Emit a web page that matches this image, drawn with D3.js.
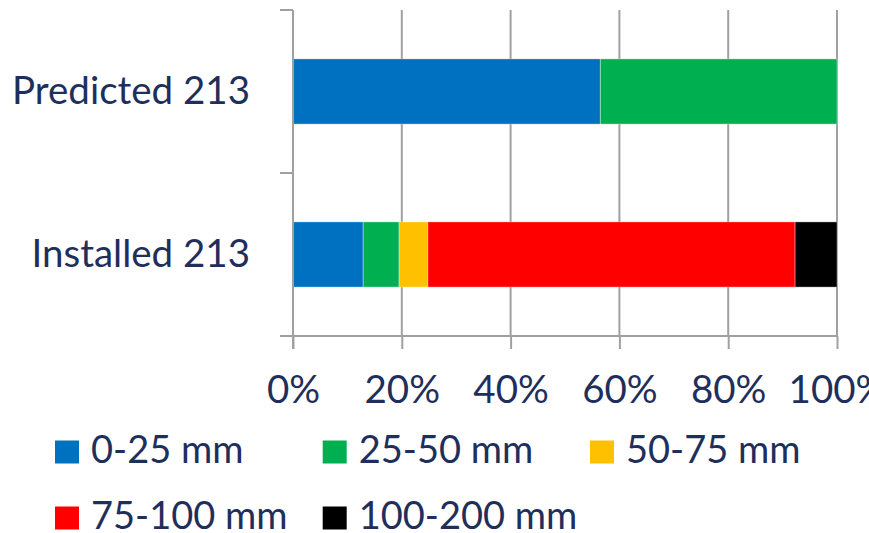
<!DOCTYPE html>
<html><head><meta charset="utf-8">
<script src="https://cdn.jsdelivr.net/npm/d3@7"></script>
<style>
html,body{margin:0;padding:0;background:#fff;}
text{font-family:"Lato","Open Sans",sans-serif;fill:#1f2f5c;}
</style></head>
<body><svg id="c" width="869" height="533"></svg>
<script>
const categories = ["Predicted 213", "Installed 213"];
const seriesNames = ["0-25 mm", "25-50 mm", "50-75 mm", "75-100 mm", "100-200 mm"];
const seriesColors = ["#0070C0", "#00B050", "#FFC000", "#FF0000", "#000000"];
const predictedValues = [56.5, 43.5, 0, 0, 0];
const installedValues = [12.9, 6.6, 5.3, 67.5, 7.7];
const tickValues = [0, 20, 40, 60, 80, 100];
const tickLabels = ["0%", "20%", "40%", "60%", "80%", "100%"];

const rows = [predictedValues, installedValues];
const table = categories.map((c, i) => {
  const o = {cat: c};
  seriesNames.forEach((s, j) => o[s] = rows[i][j]);
  return o;
});
const stack = d3.stack().keys(seriesNames).offset(d3.stackOffsetExpand)(table);

const svg = d3.select("#c");
const pLeft = 293, pRight = 837, pTop = 10, pBottom = 336;
const x = d3.scaleLinear().domain([0, 1]).range([pLeft, pRight]);
const y = d3.scaleBand().domain(categories).range([pTop, pBottom]).paddingInner(0.6).paddingOuter(0.3);
const gridColor = "#a0a0a0";

// gridlines
svg.append("g").selectAll("line").data(tickValues.filter(t => t > 0)).join("line")
  .attr("x1", d => x(d / 100)).attr("x2", d => x(d / 100))
  .attr("y1", pTop).attr("y2", pBottom)
  .attr("stroke", gridColor).attr("stroke-width", 2);

// bars
svg.append("g").selectAll("g").data(stack).join("g")
  .attr("fill", (d, i) => seriesColors[i])
  .selectAll("rect").data(d => d).join("rect")
  .attr("x", d => x(d[0])).attr("width", d => x(d[1]) - x(d[0]))
  .attr("y", d => y(d.data.cat)).attr("height", y.bandwidth())
  .attr("stroke", "#ffffff").attr("stroke-opacity", d => (d[1] - d[0]) > 0 ? 0.35 : 0).attr("stroke-width", 1);

// x axis
const xAxis = d3.axisBottom(x).tickValues(tickValues.map(t => t / 100))
  .tickFormat((d, i) => tickLabels[i]).tickSize(13).tickSizeOuter(0).tickPadding(18);
const gx = svg.append("g").attr("transform", `translate(0,${pBottom})`).call(xAxis);
gx.select(".domain").remove();
gx.selectAll(".tick line").attr("stroke", gridColor).attr("stroke-width", 2);
gx.selectAll(".tick text").attr("font-size", 38.5).attr("fill", "#1f2f5c")
  .attr("font-family", "Lato").attr("dy", null).attr("y", 67);
svg.append("line").attr("x1", 280).attr("x2", pRight).attr("y1", pBottom).attr("y2", pBottom)
  .attr("stroke", gridColor).attr("stroke-width", 2);

// y axis
svg.append("line").attr("x1", pLeft).attr("x2", pLeft).attr("y1", pTop).attr("y2", pBottom + 13)
  .attr("stroke", gridColor).attr("stroke-width", 2);
const boundaries = [pTop, (y(categories[0]) + y.bandwidth() + y(categories[1])) / 2, pBottom];
svg.append("g").selectAll("line").data(boundaries).join("line")
  .attr("x1", 280).attr("x2", pLeft).attr("y1", d => d).attr("y2", d => d)
  .attr("stroke", gridColor).attr("stroke-width", 2);
svg.append("g").selectAll("text").data(categories).join("text")
  .attr("x", 250).attr("y", d => y(d) + y.bandwidth() / 2 + 12.5)
  .attr("text-anchor", "end").attr("font-size", 38.5).text(d => d);

// legend
const legX = [55, 322.7, 590];
const legY = [440.5, 506.5];
const leg = svg.append("g").selectAll("g").data(seriesNames).join("g")
  .attr("transform", (d, i) => `translate(${legX[i % 3]},${legY[Math.floor(i / 3)]})`);
leg.append("rect").attr("width", 24).attr("height", 23).attr("fill", (d, i) => seriesColors[i]);
leg.append("text").attr("x", 36).attr("y", 22.5).attr("font-size", 38).text(d => d);
</script></body></html>
